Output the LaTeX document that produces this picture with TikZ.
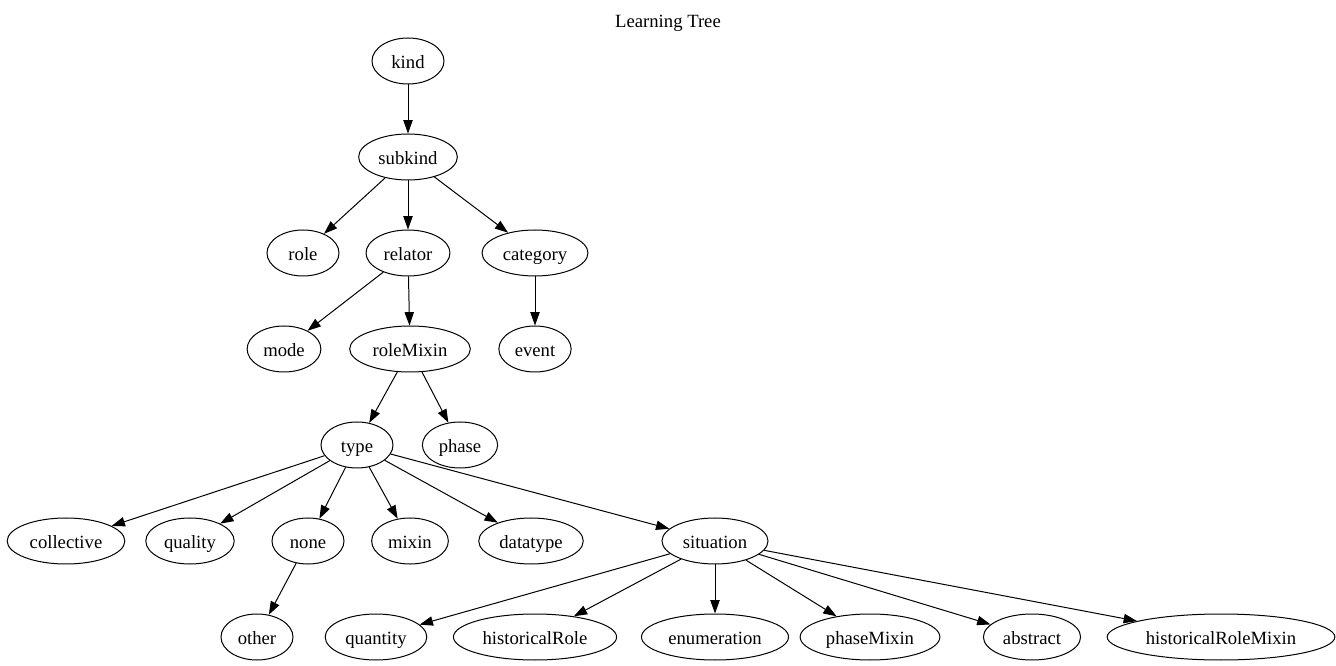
\documentclass[tikz,border=0pt]{standalone}
\usepackage{fontspec}
\setmainfont{Liberation Serif}
\usetikzlibrary{shapes.geometric,arrows.meta}
\tikzset{
  concept/.style={draw,ellipse,line width=0.75pt,inner xsep=4pt,inner ysep=0pt,
    text height=13pt,text depth=1.5pt,
    minimum width=54pt,minimum height=34.5pt,font=\fontsize{14}{17}\selectfont},
  link/.style={line width=0.75pt,-{Triangle[length=10pt,width=7pt]}},
}

\begin{document}
\begin{tikzpicture}[x=0.75pt,y=-0.75pt]
        \useasboundingbox (0,0) rectangle (1336,666);
        \node at (668,23) (title) {\fontsize{14}{17}\selectfont Learning Tree};
        % nodes, row by row
        \node[concept] at (408,61) (kind) {kind};
        \node[concept] at (408,157) (subkind) {subkind};
        \node[concept] at (303,253) (role) {role};
        \node[concept] at (408,253) (relator) {relator};
        \node[concept] at (535,253) (category) {category};
        \node[concept] at (284,349) (mode) {mode};
        \node[concept] at (410,349) (roleMixin) {roleMixin};
        \node[concept] at (535,349) (event) {event};
        \node[concept] at (357,445) (type) {type};
        \node[concept] at (460,445) (phase) {phase};
        \node[concept] at (66,541) (collective) {collective};
        \node[concept] at (190,541) (quality) {quality};
        \node[concept] at (308,541) (none) {none};
        \node[concept] at (410,541) (mixin) {mixin};
        \node[concept] at (531,541) (datatype) {datatype};
        \node[concept] at (715,541) (situation) {situation};
        \node[concept] at (257,637) (other) {other};
        \node[concept] at (376,637) (quantity) {quantity};
        \node[concept] at (535,637) (historicalRole) {historicalRole};
        \node[concept] at (715,637) (enumeration) {enumeration};
        \node[concept] at (870,637) (phaseMixin) {phaseMixin};
        \node[concept] at (1032,637) (abstract) {abstract};
        \node[concept] at (1221,637) (historicalRoleMixin) {historicalRoleMixin};
        % edges
        \foreach \a/\b in {kind/subkind,subkind/role,subkind/relator,subkind/category,
            relator/mode,relator/roleMixin,category/event,roleMixin/type,roleMixin/phase,
            type/collective,type/quality,type/none,type/mixin,type/datatype,type/situation,
            none/other,situation/quantity,situation/historicalRole,situation/enumeration,
            situation/phaseMixin,situation/abstract,situation/historicalRoleMixin}
          \draw[link] (\a) -- (\b);
      \end{tikzpicture}
\end{document}
